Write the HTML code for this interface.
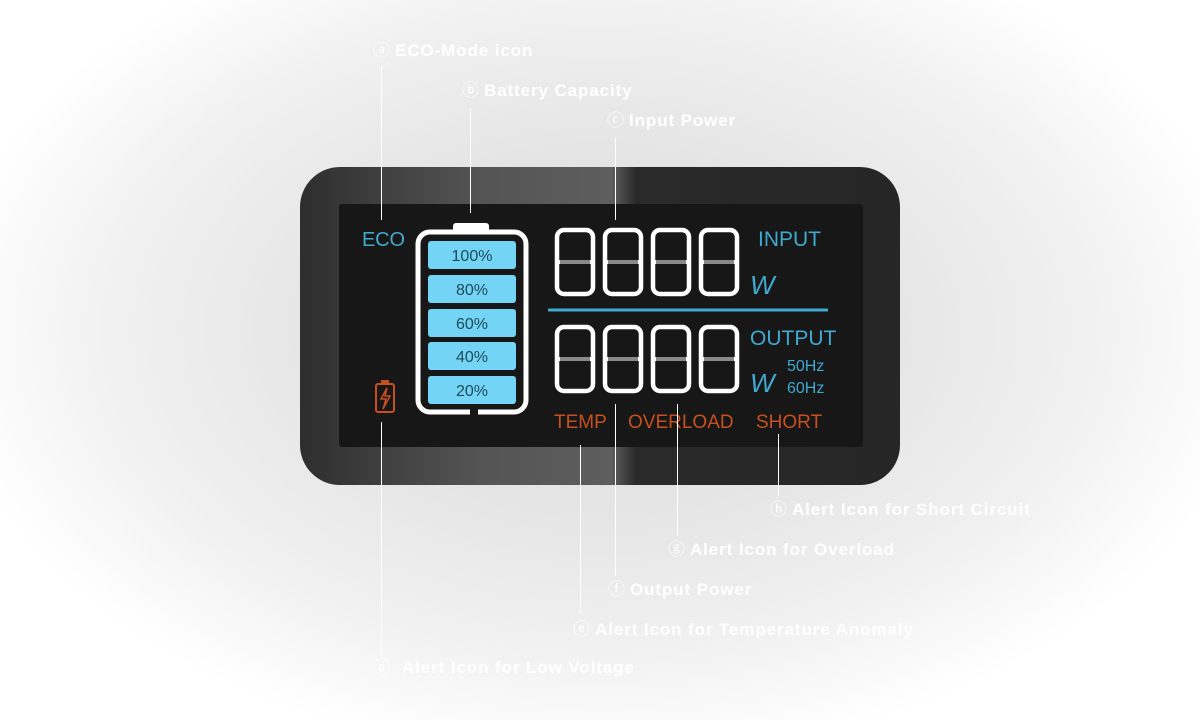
<!DOCTYPE html>
<html><head><meta charset="utf-8"><style>
html,body{margin:0;padding:0}
body{width:1200px;height:720px;overflow:hidden;position:relative;
background:radial-gradient(ellipse 660px 430px at 600px 330px,#dedede 0%,#e4e4e4 40%,#f1f1f1 75%,#fff 100%);
font-family:"Liberation Sans",sans-serif}
.l{position:absolute;color:#fff;font-weight:bold;font-size:17px;letter-spacing:0.9px;white-space:nowrap;line-height:20px}
.l span{font-weight:normal;font-size:17px;margin-right:5px;letter-spacing:0}
.v{position:absolute;width:1px;background:#fff}
</style></head><body>
<svg width="1200" height="720" style="position:absolute;left:0;top:0">
<defs>
<linearGradient id="bz" x1="0" y1="0" x2="1" y2="0">
<stop offset="0" stop-color="#2e2e2e"/><stop offset="0.3" stop-color="#545454"/><stop offset="0.52" stop-color="#5e5e5e"/><stop offset="0.56" stop-color="#2a2a2a"/><stop offset="1" stop-color="#262626"/>
</linearGradient>
<g id="dg">
<rect x="2" y="2" width="36" height="64" rx="7" fill="none" stroke="#fff" stroke-width="4.5"/>
<rect x="4" y="32" width="32" height="4" fill="#8a8a8a"/>
<rect x="0" y="32" width="5" height="4" fill="#fff"/>
<rect x="35" y="32" width="5" height="4" fill="#fff"/>
</g>
</defs>
<rect x="300" y="167" width="600" height="318" rx="40" fill="url(#bz)"/>
<rect x="339" y="204" width="524" height="243" rx="3" fill="#171717"/>
<text x="362" y="246" fill="#3fa9cf" font-size="20" font-family="Liberation Sans" textLength="43">ECO</text>
<rect x="453" y="223" width="36" height="10" rx="3" fill="#fff"/>
<rect x="418" y="232" width="108" height="180" rx="12" fill="none" stroke="#fff" stroke-width="5"/>
<rect x="470" y="408" width="8" height="8" fill="#171717"/>
<g fill="#74d4f5">
<rect x="428" y="241" width="88" height="28" rx="3"/>
<rect x="428" y="275" width="88" height="28" rx="3"/>
<rect x="428" y="309" width="88" height="28" rx="3"/>
<rect x="428" y="342" width="88" height="28" rx="3"/>
<rect x="428" y="376" width="88" height="28" rx="3"/>
</g>
<g fill="#1d4a5a" font-size="16" text-anchor="middle" font-family="Liberation Sans">
<text x="472" y="261">100%</text><text x="472" y="295">80%</text><text x="472" y="329">60%</text><text x="472" y="362">40%</text><text x="472" y="396">20%</text>
</g>
<rect x="376" y="384" width="18" height="28" rx="2" fill="none" stroke="#c8501f" stroke-width="2"/>
<rect x="381" y="380" width="8" height="4" fill="#c8501f"/>
<path d="M387 388 L381 399 L386 399 L383 409 L390 396 L385 396 Z" fill="none" stroke="#c8501f" stroke-width="1.5"/>
<use href="#dg" x="555" y="228"/><use href="#dg" x="603" y="228"/><use href="#dg" x="651" y="228"/><use href="#dg" x="699" y="228"/>
<use href="#dg" x="555" y="325"/><use href="#dg" x="603" y="325"/><use href="#dg" x="651" y="325"/><use href="#dg" x="699" y="325"/>
<line x1="548" y1="310" x2="828" y2="310" stroke="#3fa9cf" stroke-width="3"/>
<g fill="#3fa9cf" font-family="Liberation Sans">
<text x="758" y="246" font-size="21">INPUT</text>
<text x="750" y="294" font-size="26" font-style="italic">W</text>
<text x="750" y="345" font-size="21">OUTPUT</text>
<text x="750" y="392" font-size="26" font-style="italic">W</text>
<text x="787" y="371" font-size="16">50Hz</text>
<text x="787" y="393" font-size="16">60Hz</text>
</g>
<g fill="#c8501f" font-size="19" font-family="Liberation Sans">
<text x="554" y="428">TEMP</text><text x="628" y="428">OVERLOAD</text><text x="756" y="428">SHORT</text>
</g>
</svg>
<div class="v" style="left:381px;top:67px;height:153px"></div>
<div class="v" style="left:470px;top:108px;height:105px"></div>
<div class="v" style="left:615px;top:138px;height:82px"></div>
<div class="v" style="left:381px;top:422px;height:233px"></div>
<div class="v" style="left:580px;top:445px;height:168px"></div>
<div class="v" style="left:615px;top:404px;height:172px"></div>
<div class="v" style="left:677px;top:404px;height:132px"></div>
<div class="v" style="left:778px;top:434px;height:62px"></div>
<div class="l" style="left:373px;top:41px"><span>ⓐ</span>ECO-Mode icon</div>
<div class="l" style="left:462px;top:81px"><span>ⓑ</span>Battery Capacity</div>
<div class="l" style="left:607px;top:111px"><span>ⓒ</span>Input Power</div>
<div class="l" style="left:770px;top:500px"><span>ⓗ</span>Alert Icon for Short Circuit</div>
<div class="l" style="left:668px;top:540px"><span>ⓖ</span>Alert Icon for Overload</div>
<div class="l" style="left:608px;top:580px"><span>ⓕ</span>Output Power</div>
<div class="l" style="left:573px;top:620px"><span>ⓔ</span>Alert Icon for Temperature Anomaly</div>
<div class="l" style="left:373px;top:658px"><span style="margin-right:12px">ⓓ</span>Alert Icon for Low Voltage</div>
</body></html>
